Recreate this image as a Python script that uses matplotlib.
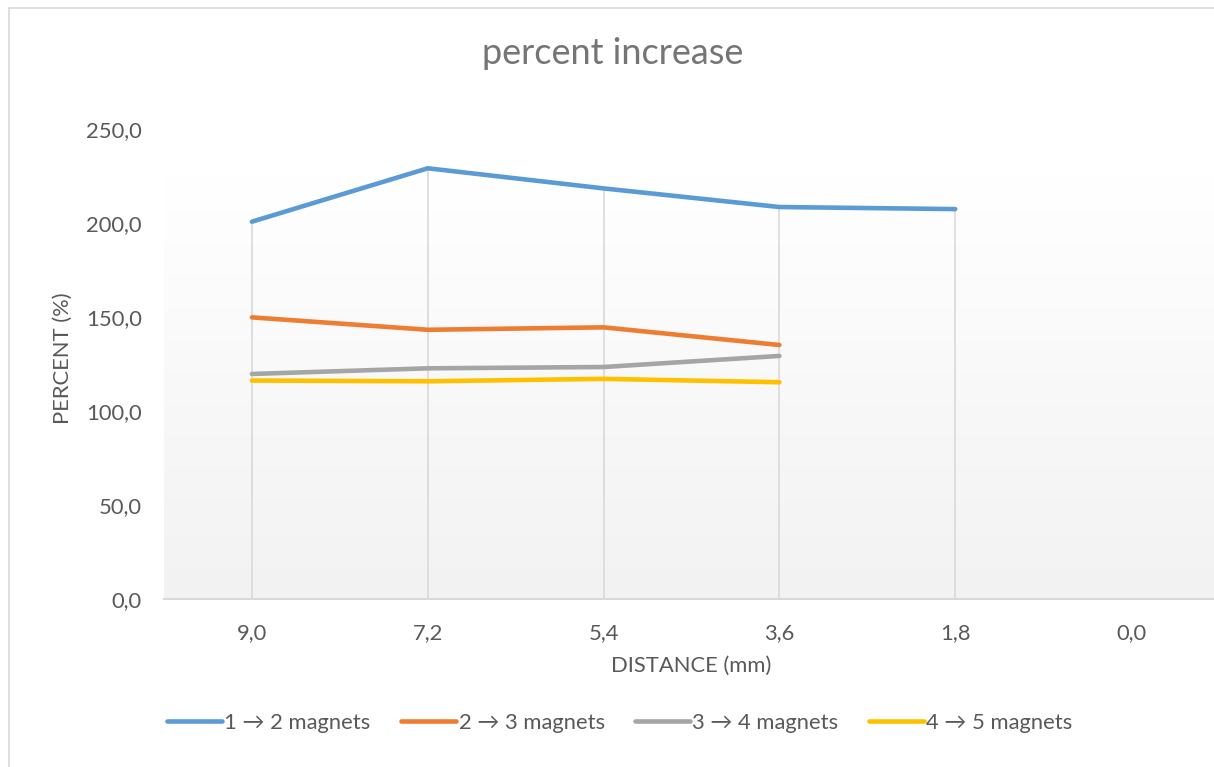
import numpy as np
import matplotlib.pyplot as plt
from matplotlib.patches import Rectangle

# percent increase when one magnet is added, per distance
distance = ["9,0", "7,2", "5,4", "3,6", "1,8", "0,0"]
one_to_two = [200.7, 229.1, 218.4, 208.5, 207.4, np.nan]
two_to_three = [149.8, 143.2, 144.5, 135.1, np.nan, np.nan]
three_to_four = [119.7, 122.7, 123.4, 129.3, np.nan, np.nan]
four_to_five = [116.2, 115.8, 117.1, 115.3, np.nan, np.nan]

series = [
    ("1 \u2192 2 magnets", one_to_two, "#5b9bd5"),
    ("2 \u2192 3 magnets", two_to_three, "#ed7d31"),
    ("3 \u2192 4 magnets", three_to_four, "#a5a5a5"),
    ("4 \u2192 5 magnets", four_to_five, "#ffc000"),
]

plt.rcParams['font.family'] = ['Lato', 'DejaVu Sans']
txt = "#595959"

W, H = 1214, 767
fig = plt.figure(figsize=(W / 100, H / 100), dpi=100)

# chart border
fig.patches.append(Rectangle((9 / W, -0.1), 1.2, 1.1 - 8 / H, transform=fig.transFigure,
                             fill=False, edgecolor="#d9d9d9", linewidth=1.2))

ax = fig.add_axes([164 / W, 168 / H, 1055 / W, 470 / H])
x = np.arange(len(distance))
ax.set_xlim(-0.5, len(distance) - 0.5)
ax.set_ylim(0, 250)

# plot area gradient, white at the top fading to light grey
grad = np.clip(np.linspace(242, 256.5, 256), 0, 255).reshape(-1, 1) / 255
ax.imshow(np.dstack([grad, grad, grad]), extent=[-0.5, len(distance) - 0.5, 0, 250],
          origin="lower", aspect="auto", zorder=0, interpolation="bilinear")

# drop lines
data = np.array([s[1] for s in series])
has = ~np.all(np.isnan(data), axis=0)
top = np.nanmax(np.where(np.isnan(data), -np.inf, data), axis=0)
ax.vlines(x[has], 0, top[has], color="#d9d9d9", linewidth=1.2, zorder=1)

for label, vals, color in series:
    ax.plot(x, vals, color=color, linewidth=3.3, solid_capstyle="round",
            solid_joinstyle="round", label=label, zorder=3)

for s in ["top", "right", "left"]:
    ax.spines[s].set_visible(False)
ax.spines["bottom"].set_color("#d9d9d9")
ax.spines["bottom"].set_linewidth(1.5)
ax.spines["bottom"].set_zorder(2)

ax.set_xticks(x)
ax.set_xticklabels(distance)
ax.set_yticks(np.arange(0, 251, 50))
ax.set_yticklabels([f"{v:.1f}".replace(".", ",") for v in np.arange(0, 251, 50)])
ax.tick_params(axis="both", length=0, labelsize=15.8, colors=txt)
ax.tick_params(axis="y", pad=16)
ax.tick_params(axis="x", pad=17)

fig.text(691 / W, 1 - 666 / H, "DISTANCE (mm)", ha="center", va="center",
         fontsize=15.8, color=txt)
fig.text(63 / W, 1 - 358 / H, "PERCENT (%)", ha="center", va="center",
         rotation=90, fontsize=15.8, color=txt)
fig.text(613 / W, 1 - 53 / H, "percent increase", ha="center", va="center",
         fontsize=26, color="#757575")

fig.legend(loc="center", bbox_to_anchor=(620 / W, 1 - 723 / H), ncol=4, frameon=False,
           fontsize=15.8, labelcolor=txt, handlelength=2.5, handletextpad=0.1,
           columnspacing=1.4)

fig.savefig("out.png", dpi=100, facecolor="white")
